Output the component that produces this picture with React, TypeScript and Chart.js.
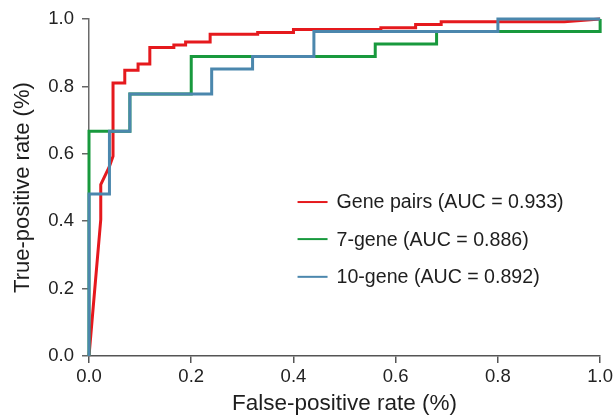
import { useEffect, useRef } from "react";
import { Chart, registerables } from "chart.js";

Chart.register(...registerables);

const seriesNames = [
  "Gene pairs (AUC = 0.933)",
  "7-gene (AUC = 0.886)",
  "10-gene (AUC = 0.892)",
];
const seriesColors = ["#e5191d", "#18993d", "#4b87ad"];

const genePairsFpr = [0, 0.023, 0.023, 0.04, 0.047, 0.047, 0.07, 0.07, 0.096, 0.096, 0.119, 0.119, 0.166, 0.166, 0.189, 0.189, 0.237, 0.237, 0.33, 0.33, 0.4, 0.4, 0.571, 0.571, 0.639, 0.639, 0.689, 0.689, 0.93, 1];
const genePairsTpr = [0, 0.405, 0.509, 0.563, 0.593, 0.81, 0.81, 0.848, 0.848, 0.867, 0.867, 0.916, 0.916, 0.923, 0.923, 0.932, 0.932, 0.955, 0.955, 0.96, 0.96, 0.969, 0.969, 0.974, 0.974, 0.984, 0.984, 0.992, 0.992, 1];

const sevenGeneFpr = [0, 0, 0.08, 0.08, 0.2, 0.2, 0.56, 0.56, 0.68, 0.68, 1, 1];
const sevenGeneTpr = [0, 0.667, 0.667, 0.778, 0.778, 0.889, 0.889, 0.926, 0.926, 0.963, 0.963, 1];

const tenGeneFpr = [0, 0, 0.04, 0.04, 0.08, 0.08, 0.24, 0.24, 0.32, 0.32, 0.44, 0.44, 0.8, 0.8, 1];
const tenGeneTpr = [0, 0.481, 0.481, 0.667, 0.667, 0.778, 0.778, 0.852, 0.852, 0.889, 0.889, 0.963, 0.963, 1, 1];

const xTitle = "False-positive rate (%)";
const yTitle = "True-positive rate (%)";

const FONT = '"Liberation Sans", Arial, Helvetica, sans-serif';

function toPoints(xs: number[], ys: number[]) {
  return xs.map((x, i) => ({ x, y: ys[i] }));
}

const legendPlugin = {
  id: "insideLegend",
  afterDraw(chart: any) {
    const ctx = chart.ctx as CanvasRenderingContext2D;
    const xs = chart.scales.x;
    const ys = chart.scales.y;
    const x0 = xs.getPixelForValue(0.408);
    const rows = [0.457, 0.347, 0.235];
    ctx.save();
    ctx.font = `19.6px ${FONT}`;
    ctx.textBaseline = "middle";
    ctx.textAlign = "left";
    seriesNames.forEach((name, i) => {
      const y = ys.getPixelForValue(rows[i]);
      ctx.strokeStyle = seriesColors[i];
      ctx.lineWidth = 2;
      ctx.beginPath();
      ctx.moveTo(x0, y);
      ctx.lineTo(x0 + 30, y);
      ctx.stroke();
      ctx.fillStyle = "#1e1e1e";
      ctx.fillText(name, x0 + 39, y + 1);
    });
    ctx.restore();
  },
};

export default function App() {
  const ref = useRef<HTMLCanvasElement | null>(null);
  useEffect(() => {
    if (!ref.current) return;
    const mk = (i: number, xs: number[], ys: number[], order: number) => ({
      label: seriesNames[i],
      data: toPoints(xs, ys),
      borderColor: seriesColors[i],
      backgroundColor: seriesColors[i],
      borderWidth: 3,
      pointRadius: 0,
      showLine: true,
      fill: false,
      tension: 0,
      clip: false as any,
      order,
    });
    const chart = new Chart(ref.current, {
      type: "scatter",
      data: {
        datasets: [
          mk(0, genePairsFpr, genePairsTpr, 3),
          mk(1, sevenGeneFpr, sevenGeneTpr, 2),
          mk(2, tenGeneFpr, tenGeneTpr, 1),
        ] as any,
      },
      options: {
        animation: false,
        responsive: false,
        devicePixelRatio: 1,
        layout: { padding: { left: 0, right: 14, top: 19, bottom: 0 } },
        plugins: { legend: { display: false }, tooltip: { enabled: false } },
        scales: {
          x: {
            type: "linear",
            min: 0,
            max: 1,
            afterFit: (s: any) => {
              s.height = 61;
            },
            ticks: {
              stepSize: 0.2,
              callback: (v: any) => Number(v).toFixed(1),
              font: { family: FONT, size: 18.5 },
              color: "#222",
              padding: 3,
              maxRotation: 0,
            },
            grid: { drawOnChartArea: false, drawTicks: true, tickLength: 7, color: "#555", lineWidth: 1.5 },
            border: { display: true, color: "#555", width: 1.5 },
            title: {
              display: true,
              text: xTitle,
              font: { family: FONT, size: 22.5 },
              color: "#1e1e1e",
              padding: { top: 0, bottom: 0 },
            },
          },
          y: {
            type: "linear",
            min: 0,
            max: 1,
            afterFit: (s: any) => {
              s.width = 89;
            },
            ticks: {
              stepSize: 0.2,
              callback: (v: any) => Number(v).toFixed(1),
              font: { family: FONT, size: 18.5 },
              color: "#222",
              padding: 8,
            },
            grid: { drawOnChartArea: false, drawTicks: true, tickLength: 7, color: "#666", lineWidth: 1.5 },
            border: { display: true, color: "#6a6a6a", width: 1.5 },
            title: {
              display: true,
              text: yTitle,
              font: { family: FONT, size: 22 },
              color: "#1e1e1e",
              padding: { top: 10, bottom: 0 },
            },
          },
        },
      },
      plugins: [legendPlugin],
    });
    return () => chart.destroy();
  }, []);
  return (
    <div style={{ position: "absolute", left: 0, top: 0, width: 616, height: 417, background: "#fff" }}>
      <canvas ref={ref} width={616} height={417} style={{ width: 616, height: 417, display: "block" }} />
    </div>
  );
}
